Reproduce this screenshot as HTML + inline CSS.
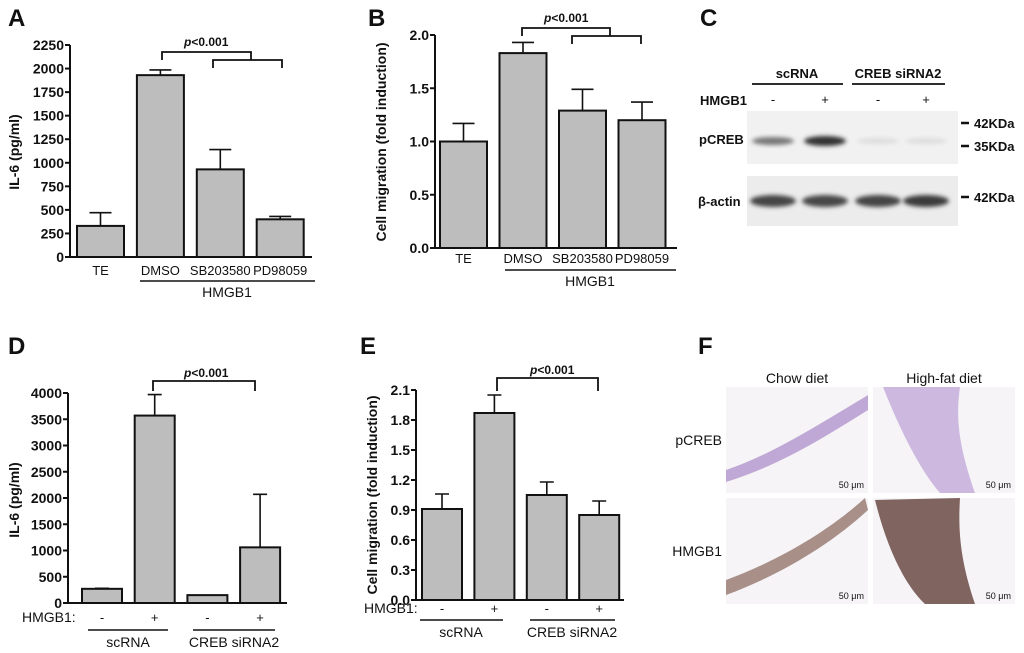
<!DOCTYPE html>
<html><head><meta charset="utf-8"><style>
html,body{margin:0;padding:0;background:#fff;}
svg{display:block;font-family:"Liberation Sans",Arial,sans-serif;}
</style></head><body>
<svg id="fig" width="1024" height="653" viewBox="0 0 1024 653" xmlns="http://www.w3.org/2000/svg">
<g id="charts"></g>
<g id="blot"></g>
<g id="histo"></g>
</svg>
<script>
// ---- Chart data ----
const catsA = ["TE","DMSO","SB203580","PD98059"];
const valsA = [330,1930,930,400];
const errA = [470,1985,1140,430];
const ticksA = [0,250,500,750,1000,1250,1500,1750,2000,2250];

const catsB = ["TE","DMSO","SB203580","PD98059"];
const valsB = [1.0,1.83,1.29,1.2];
const errB = [1.17,1.93,1.49,1.37];
const ticksB = ["0.0","0.5","1.0","1.5","2.0"];

const catsD = ["-","+","-","+"];
const valsD = [270,3570,150,1060];
const errD = [280,3970,150,2070];
const ticksD = [0,500,1000,1500,2000,2500,3000,3500,4000];

const catsE = ["-","+","-","+"];
const valsE = [0.91,1.87,1.05,0.85];
const errE = [1.06,2.05,1.18,0.99];
const ticksE = ["0.0","0.3","0.6","0.9","1.2","1.5","1.8","2.1"];

const NS="http://www.w3.org/2000/svg";
function mk(tag,attrs,parent,text){const e=document.createElementNS(NS,tag);for(const k in attrs)e.setAttribute(k,attrs[k]);if(text!==undefined)e.textContent=text;parent.appendChild(e);return e;}
const root=document.getElementById('charts');

function chart(o){
  const g=mk('g',{},root);
  
  
  const tv=o.ticks.map(Number);
  const max=tv[tv.length-1];
  const y=v=>o.y0-(v/max)*(o.y0-o.yTop);
  const x=i=>o.c0+o.step*i;
  o.vals.forEach((v,i)=>{
    const b=mk('rect',{x:x(i)-o.bw/2,y:y(v),width:o.bw,height:o.y0-y(v),fill:'#bdbdbd',stroke:'#111','stroke-width':2},g);
    
    
    const e=o.errs[i];
    if(e>v+0.0001){
      const w=mk('path',{d:`M${x(i)},${y(v)}V${y(e)}M${x(i)-o.cap/2},${y(e)}H${x(i)+o.cap/2}`,stroke:'#111','stroke-width':1.6,fill:'none'},g);
      
      
    }
  });
  const ax=mk('path',{d:`M${o.ax},${o.yTop}V${o.y0}H${o.axEnd}`,stroke:'#111','stroke-width':2,fill:'none'},g);
  
  
  o.ticks.forEach(t=>{
    mk('line',{x1:o.ax-5,x2:o.ax,y1:y(+t),y2:y(+t),stroke:'#111','stroke-width':2},g);
    const tl=mk('text',{x:o.ax-6,y:y(+t)+5,'text-anchor':'end','font-size':14,'font-weight':'bold',fill:'#111'},g,t);
    
    
  });
  const tt=mk('text',{x:o.titleX,y:o.titleY,'text-anchor':'middle','font-size':14,'font-weight':'bold',fill:'#111',transform:`rotate(-90 ${o.titleX} ${o.titleY})`},g,o.title);
  
  
  o.cats.forEach((c,i)=>{
    const cl=mk('text',{x:x(i),y:o.catY,'text-anchor':'middle','font-size':13,fill:'#111'},g,c);
    
    
  });
  return {g,x,y};
}

chart({name:'chart-a-il6',key:'a',cats:catsA,vals:valsA,errs:errA,ticks:ticksA,y0:257,yTop:45,c0:100.5,step:59.9,bw:47,cap:22,ax:70,axEnd:312,title:'IL-6 (pg/ml)',titleX:19,titleY:152,catY:275});
chart({name:'chart-b-migration',key:'b',cats:catsB,vals:valsB,errs:errB,ticks:ticksB,y0:248,yTop:35,c0:463.5,step:59.5,bw:47,cap:22,ax:435,axEnd:677,title:'Cell migration (fold induction)',titleX:386,titleY:142,catY:263});
chart({name:'chart-d-il6',key:'d',cats:catsD,vals:valsD,errs:errD,ticks:ticksD,y0:603,yTop:393,c0:102,step:52.7,bw:40,cap:14,ax:68,axEnd:287,title:'IL-6 (pg/ml)',titleX:19,titleY:500,catY:622});
chart({name:'chart-e-migration',key:'e',cats:catsE,vals:valsE,errs:errE,ticks:ticksE,y0:600,yTop:390,c0:442,step:52.4,bw:40,cap:14,ax:416,axEnd:624,title:'Cell migration (fold induction)',titleX:377,titleY:495,catY:613});

function txt(x,y,s,attrs,name){const t=mk('text',Object.assign({x,y,fill:'#111'},attrs),root,s);return t;}
function ln(d,name,w){const p=mk('path',{d,stroke:'#111','stroke-width':w||1.8,fill:'none'},root);return p;}

[['A',8,26],['B',368,26],['C',700,26],['D',8,354],['E',360,354],['F',698,354]].forEach(l=>txt(l[1],l[2],l[0],{'font-size':24,'font-weight':'bold'},'panel-label-'+l[0].toLowerCase()));

ln('M162,60V52H251V60','bracket-a-main');ln('M213,68V60H282V68','bracket-a-sub');
txt(184,46,'',{'font-size':12,'font-weight':'bold'},'p-value-a').innerHTML='<tspan font-style="italic">p</tspan>&lt;0.001';
ln('M140,281H315','group-line-a',1.5);txt(227,297,'HMGB1',{'font-size':14,'text-anchor':'middle'},'group-label-a');
ln('M522,36V28H610V36','bracket-b-main');ln('M572,44V36H641V44','bracket-b-sub');
txt(544,22,'',{'font-size':12,'font-weight':'bold'},'p-value-b').innerHTML='<tspan font-style="italic">p</tspan>&lt;0.001';
ln('M505,270H676','group-line-b',1.5);txt(590,286,'HMGB1',{'font-size':14,'text-anchor':'middle'},'group-label-b');
ln('M153,391V381H255V391','bracket-d');
txt(184,377,'',{'font-size':12,'font-weight':'bold'},'p-value-d').innerHTML='<tspan font-style="italic">p</tspan>&lt;0.001';
txt(22,622,'HMGB1:',{'font-size':14},'hmgb1-label-d');
ln('M88,630H168','group-line-d1',1.5);ln('M193,630H275','group-line-d2',1.5);
txt(128,647,'scRNA',{'font-size':14,'text-anchor':'middle'},'group-label-d1');
txt(234,647,'CREB siRNA2',{'font-size':14,'text-anchor':'middle'},'group-label-d2');
ln('M497,391V378H598V391','bracket-e');
txt(530,374,'',{'font-size':12,'font-weight':'bold'},'p-value-e').innerHTML='<tspan font-style="italic">p</tspan>&lt;0.001';
txt(364,613,'HMGB1:',{'font-size':14},'hmgb1-label-e');
ln('M420,620H503','group-line-e1',1.5);ln('M530,620H615','group-line-e2',1.5);
txt(461,637,'scRNA',{'font-size':14,'text-anchor':'middle'},'group-label-e1');
txt(572,637,'CREB siRNA2',{'font-size':14,'text-anchor':'middle'},'group-label-e2');

// ---- Panel C blot ----
const bl=document.getElementById('blot');
function bt(x,y,s,a,name){const t=mk('text',Object.assign({x,y,fill:'#111','font-size':13,'font-weight':'bold'},a),bl,s);return t;}
const defs=mk('defs',{},bl);
const flt=mk('filter',{id:'blur',x:'-20%',y:'-50%',width:'140%',height:'200%'},defs);mk('feGaussianBlur',{stdDeviation:2.2},flt);
bt(797,78,'scRNA',{'text-anchor':'middle'},'blot-group-scrna');
bt(898,78,'CREB siRNA2',{'text-anchor':'middle'},'blot-group-creb');
mk('path',{d:'M752,84H843M852,84H945',stroke:'#111','stroke-width':1.8},bl);
bt(700,105,'HMGB1',{},'blot-hmgb1-label');
[['-',773],['+',825],['-',878],['+',926]].forEach(m=>bt(m[1],104,m[0],{'text-anchor':'middle','font-weight':'normal'},'blot-lane-sign'));
const b1=mk('rect',{x:747,y:111,width:211,height:53,fill:'#f1f1f1'},bl);
const b2=mk('rect',{x:747,y:176,width:211,height:50,fill:'#ececec'},bl);
[[773,'#777',4],[825,'#333',5],[878,'#ddd',3],[926,'#ddd',3]].forEach(b=>mk('ellipse',{cx:b[0],cy:141,rx:21,ry:b[2],fill:b[1],filter:'url(#blur)'},bl));
[[773,'#444'],[825,'#474747'],[878,'#454545'],[926,'#3a3a3a']].forEach(b=>mk('ellipse',{cx:b[0],cy:201,rx:23,ry:6,fill:b[1],filter:'url(#blur)'},bl));
bt(699,144,'pCREB',{},'blot-pcreb-label');
bt(698,206,'β-actin',{},'blot-actin-label');
mk('path',{d:'M961,123H969M961,146H969M961,197H969',stroke:'#111','stroke-width':2.5},bl);
bt(974,128,'42KDa',{},'marker-42kda');bt(974,151,'35KDa',{},'marker-35kda');bt(974,202,'42KDa',{},'marker-42kda-actin');

// ---- Panel F histology ----
const hs=document.getElementById('histo');
function ht(x,y,s,a,name){const t=mk('text',Object.assign({x,y,fill:'#111','font-size':14},a),hs,s);return t;}
ht(797,383,'Chow diet',{'text-anchor':'middle'},'col-label-chow');
ht(944,383,'High-fat diet',{'text-anchor':'middle'},'col-label-highfat');
ht(722,445,'pCREB',{'text-anchor':'end'},'row-label-pcreb');
ht(722,556,'HMGB1',{'text-anchor':'end'},'row-label-hmgb1');
const panels=[
 [726,387,'M726,470 C770,455 810,430 868,395 L868,410 C820,440 780,465 726,482Z','#b59ad0'],
 [873,387,'M883,387 C900,430 920,470 940,493 L975,493 C960,450 955,420 960,387Z','#c5aedb'],
 [726,498,'M726,580 C780,560 830,530 865,498 L868,510 C830,545 780,575 726,595Z','#9a7c74'],
 [873,498,'M875,500 C890,560 910,590 925,604 L975,604 C960,560 958,530 960,498Z','#6b4a44']
];
panels.forEach((p,i)=>{
  const r=mk('rect',{x:p[0],y:p[1],width:142,height:106,fill:'#f6f4f7'},hs);
  
  
  mk('path',{d:p[2],fill:p[3],opacity:0.85},hs);
  mk('text',{x:p[0]+138,y:p[1]+101,'text-anchor':'end','font-size':9,fill:'#111'},hs,'50 μm');
});
</script>
</body></html>
